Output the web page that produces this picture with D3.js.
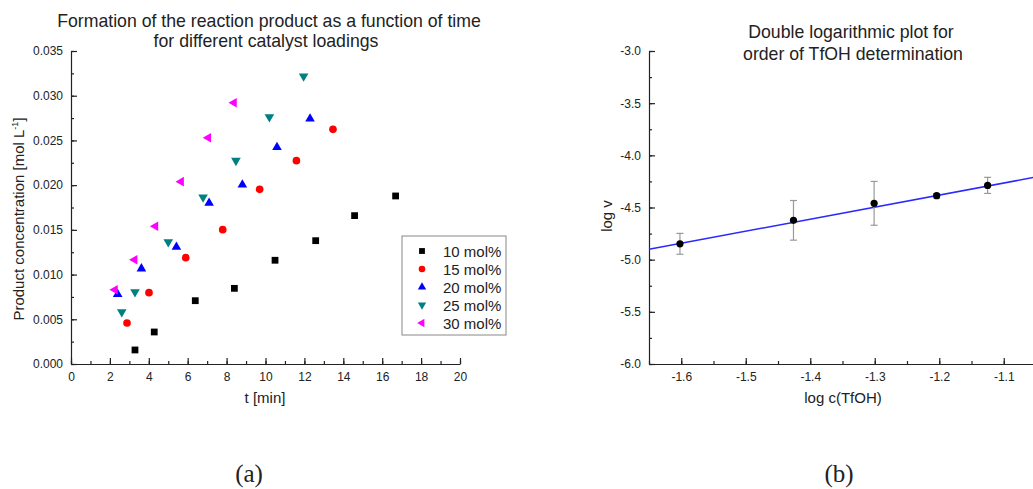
<!DOCTYPE html>
<html>
<head>
<meta charset="utf-8">
<script src="https://cdn.jsdelivr.net/npm/d3@7"></script>
<style>
html,body{margin:0;padding:0;background:#fff;}
svg text{font-family:"Liberation Sans",Arial,sans-serif;fill:#222;}
</style>
</head>
<body>
<svg id="chart" width="1033" height="489"></svg>
<script>
// ---------- Data (a) ----------
const seriesNames = ["10 mol%", "15 mol%", "20 mol%", "25 mol%", "30 mol%"];
const t10 = [3.29, 4.28, 6.39, 8.40, 10.49, 12.58, 14.58, 16.69];
const c10 = [0.00157, 0.00358, 0.00708, 0.00846, 0.0116, 0.01379, 0.01659, 0.01879];
const t15 = [2.88, 4.01, 5.90, 7.80, 9.70, 11.59, 13.47];
const c15 = [0.00458, 0.00798, 0.01189, 0.01502, 0.01953, 0.02274, 0.02624];
const t20 = [2.40, 3.62, 5.42, 7.10, 8.81, 10.59, 12.29];
const c20 = [0.0078, 0.01066, 0.01308, 0.0180, 0.02005, 0.02423, 0.02743];
const t25 = [2.61, 3.29, 5.00, 6.79, 8.48, 10.20, 11.96];
const c25 = [0.00581, 0.00805, 0.01364, 0.01864, 0.02274, 0.02762, 0.03217];
const t30 = [2.26, 3.27, 4.34, 5.66, 7.06, 8.38];
const c30 = [0.00831, 0.01166, 0.0154, 0.02039, 0.0253, 0.02922];
const xTicksA = [0, 2, 4, 6, 8, 10, 12, 14, 16, 18, 20];
const yTicksA = [0, 0.005, 0.010, 0.015, 0.020, 0.025, 0.030, 0.035];

// ---------- Data (b) ----------
const logC = [-1.602, -1.426, -1.301, -1.204, -1.125];
const logV = [-4.848, -4.623, -4.460, -4.387, -4.288];
const logVErr = [0.10, 0.19, 0.21, 0.02, 0.077];
const fitSlope = 1.155;
const fitIntercept = -2.995;
const xTicksB = [-1.6, -1.5, -1.4, -1.3, -1.2, -1.1];
const yTicksB = [-6.0, -5.5, -5.0, -4.5, -4.0, -3.5, -3.0];

const svg = d3.select("#chart");
const axisColor = "#222";

function styleAxis(g) {
  g.selectAll("path.domain").attr("stroke", axisColor).attr("stroke-width", 1.2);
  g.selectAll(".tick line").attr("stroke", axisColor).attr("stroke-width", 1.2);
  g.selectAll(".tick text").attr("fill", "#222").style("font-size", "12px")
    .style("font-family", '"Liberation Sans", Arial, sans-serif');
}
const fmt1 = d => d.toFixed(1);
const fmt3 = d => d.toFixed(3);

// ================= Panel (a) =================
const xA = d3.scaleLinear().domain([0, 20]).range([71, 460]);
const yA = d3.scaleLinear().domain([0, 0.035]).range([364, 51]);

const gxA = svg.append("g").attr("transform", `translate(0,${yA(0)})`)
  .call(d3.axisBottom(xA).tickValues(xTicksA).tickFormat(d => String(d))
    .tickSizeInner(-6).tickSizeOuter(0).tickPadding(8));
styleAxis(gxA);
const gxAm = svg.append("g").attr("transform", `translate(0,${yA(0)})`)
  .call(d3.axisBottom(xA).ticks(20).tickFormat("").tickSizeInner(-3).tickSizeOuter(0));
gxAm.select("path.domain").remove();
styleAxis(gxAm);

const gyA = svg.append("g").attr("transform", `translate(${xA(0)},0)`)
  .call(d3.axisLeft(yA).tickValues(yTicksA).tickFormat(fmt3)
    .tickSizeInner(-6).tickSizeOuter(0).tickPadding(8));
styleAxis(gyA);
const gyAm = svg.append("g").attr("transform", `translate(${xA(0)},0)`)
  .call(d3.axisLeft(yA).tickValues(d3.range(0, 15).map(i => i * 0.0025)).tickFormat("")
    .tickSizeInner(-3).tickSizeOuter(0));
gyAm.select("path.domain").remove();
styleAxis(gyAm);

const colors = ["#000000", "#ff0000", "#0000ff", "#008080", "#ff00ff"];
const tri = d3.symbol().type(d3.symbolTriangle);
const symbolDefs = [
  {path: d3.symbol().type(d3.symbolSquare).size(46)(), rot: 0},
  {path: d3.symbol().type(d3.symbolCircle).size(46)(), rot: 0},
  {path: tri.size(40)(), rot: 0},
  {path: tri.size(40)(), rot: 180},
  {path: tri.size(40)(), rot: -90}
];
const allT = [t10, t15, t20, t25, t30];
const allC = [c10, c15, c20, c25, c30];

allT.forEach((ts, si) => {
  const pts = ts.map((t, i) => ({t, c: allC[si][i]}));
  svg.append("g").selectAll("path").data(pts).join("path")
    .attr("d", symbolDefs[si].path)
    .attr("transform", d => `translate(${xA(d.t)},${yA(d.c)}) rotate(${symbolDefs[si].rot})`)
    .attr("fill", colors[si]);
});

// legend
const lg = svg.append("g");
lg.append("rect").attr("x", 402).attr("y", 236).attr("width", 104).attr("height", 99)
  .attr("fill", "#fff").attr("stroke", "#888").attr("stroke-width", 1);
seriesNames.forEach((name, i) => {
  const cy = 251 + i * 18;
  const small = [
    d3.symbol().type(d3.symbolSquare).size(34)(),
    d3.symbol().type(d3.symbolCircle).size(34)(),
    tri.size(30)(), tri.size(30)(), tri.size(30)()
  ][i];
  lg.append("path").attr("d", small)
    .attr("transform", `translate(422,${cy}) rotate(${symbolDefs[i].rot})`)
    .attr("fill", colors[i]);
  lg.append("text").attr("x", 443).attr("y", cy + 5.5).style("font-size", "15px").text(name);
});

// titles & labels (a)
svg.append("text").attr("x", 269).attr("y", 27).attr("text-anchor", "middle")
  .style("font-size", "17.7px").text("Formation of the reaction product as a function of time");
svg.append("text").attr("x", 266).attr("y", 47).attr("text-anchor", "middle")
  .style("font-size", "17.7px").text("for different catalyst loadings");
svg.append("text").attr("x", 265).attr("y", 403).attr("text-anchor", "middle")
  .style("font-size", "15px").text("t [min]");
const ylabA = svg.append("text").attr("transform", "translate(24,219) rotate(-90)")
  .attr("text-anchor", "middle").style("font-size", "15px");
ylabA.append("tspan").text("Product concentration [mol L");
ylabA.append("tspan").attr("dy", -6).style("font-size", "9px").text("-1");
ylabA.append("tspan").attr("dy", 6).text("]");

// ================= Panel (b) =================
const xB = d3.scaleLinear().domain([-1.65, -1.05]).range([649, 1036]);
const yB = d3.scaleLinear().domain([-6, -3]).range([364, 51]);

const gxB = svg.append("g").attr("transform", `translate(0,${yB(-6)})`)
  .call(d3.axisBottom(xB).tickValues(xTicksB).tickFormat(fmt1)
    .tickSizeInner(-6).tickSizeOuter(0).tickPadding(8));
styleAxis(gxB);
const gxBm = svg.append("g").attr("transform", `translate(0,${yB(-6)})`)
  .call(d3.axisBottom(xB).tickValues(d3.range(0, 13).map(i => -1.65 + i * 0.05)).tickFormat("")
    .tickSizeInner(-3).tickSizeOuter(0));
gxBm.select("path.domain").remove();
styleAxis(gxBm);

const gyB = svg.append("g").attr("transform", `translate(${xB(-1.65)},0)`)
  .call(d3.axisLeft(yB).tickValues(yTicksB).tickFormat(fmt1)
    .tickSizeInner(-6).tickSizeOuter(0).tickPadding(8));
styleAxis(gyB);
const gyBm = svg.append("g").attr("transform", `translate(${xB(-1.65)},0)`)
  .call(d3.axisLeft(yB).tickValues(d3.range(0, 13).map(i => -6 + i * 0.25)).tickFormat("")
    .tickSizeInner(-3).tickSizeOuter(0));
gyBm.select("path.domain").remove();
styleAxis(gyBm);

// fit line
const fitX = xB.domain();
svg.append("line")
  .attr("x1", xB(fitX[0])).attr("y1", yB(fitIntercept + fitSlope * fitX[0]))
  .attr("x2", xB(fitX[1])).attr("y2", yB(fitIntercept + fitSlope * fitX[1]))
  .attr("stroke", "#2a2aff").attr("stroke-width", 1.5);

// error bars
const ptsB = logC.map((x, i) => ({x, y: logV[i], e: logVErr[i]}));
const eb = svg.append("g").attr("stroke", "#999").attr("stroke-width", 1.2);
ptsB.forEach(d => {
  eb.append("line").attr("x1", xB(d.x)).attr("x2", xB(d.x))
    .attr("y1", yB(d.y - d.e)).attr("y2", yB(d.y + d.e));
  [d.y - d.e, d.y + d.e].forEach(v => {
    eb.append("line").attr("x1", xB(d.x) - 3.5).attr("x2", xB(d.x) + 3.5)
      .attr("y1", yB(v)).attr("y2", yB(v));
  });
});
svg.append("g").selectAll("circle").data(ptsB).join("circle")
  .attr("cx", d => xB(d.x)).attr("cy", d => yB(d.y)).attr("r", 3.6).attr("fill", "#000");

// titles & labels (b)
svg.append("text").attr("x", 851).attr("y", 38).attr("text-anchor", "middle")
  .style("font-size", "17.7px").text("Double logarithmic plot for");
svg.append("text").attr("x", 853).attr("y", 60).attr("text-anchor", "middle")
  .style("font-size", "17.7px").text("order of TfOH determination");
svg.append("text").attr("x", 843).attr("y", 403).attr("text-anchor", "middle")
  .style("font-size", "15px").text("log c(TfOH)");
svg.append("text").attr("transform", "translate(612,216) rotate(-90)")
  .attr("text-anchor", "middle").style("font-size", "15px").text("log v");

// panel letters
svg.append("text").attr("x", 249).attr("y", 482).attr("text-anchor", "middle")
  .style("font-family", '"Liberation Serif", "Times New Roman", serif').style("font-size", "25px")
  .text("(a)");
svg.append("text").attr("x", 839).attr("y", 482).attr("text-anchor", "middle")
  .style("font-family", '"Liberation Serif", "Times New Roman", serif').style("font-size", "25px")
  .text("(b)");
</script>
</body>
</html>
